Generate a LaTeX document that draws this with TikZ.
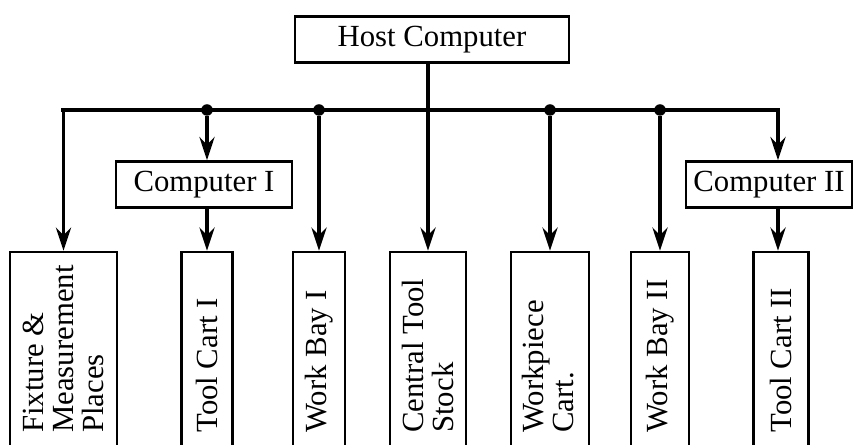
\documentclass[tikz,border=0pt]{standalone}
\usepackage{fontspec}
\setmainfont{Liberation Serif}
\usepackage{tikz}
\usetikzlibrary{arrows.meta, positioning, calc}

\begin{document}
\begin{tikzpicture}[x=0.02cm, y=-0.02cm,
  font=\fontsize{17.5}{17}\selectfont,
  box/.style={draw=black, line width=1.5pt, inner sep=0pt, minimum height=0.92cm},
  cell/.style={draw=black, line width=1.5pt, inner sep=0pt, minimum height=4.36cm},
  vtext/.style={rotate=90, anchor=west, align=left, inner sep=0pt},
  bus/.style={draw=black, line width=2.5pt, line cap=rect},
  feed/.style={draw=black, line width=2.2pt, -{Stealth[length=0.46cm, width=0.3cm]}},
  dot/.style={circle, fill=black, inner sep=0pt, minimum size=0.23cm},
]
\useasboundingbox (0,0) rectangle (863,445);
\clip (0,0) rectangle (863,445);
% ---------- computers ----------
\node[box, minimum width=5.48cm] (host)  at (432,39.5)  {Host Computer};
\node[box, minimum width=3.52cm] (comp1) at (204,184.5) {Computer I};
\node[box, minimum width=3.32cm] (comp2) at (769,184.5) {Computer II};
% ---------- stations (bottom edge runs off the page) ----------
\node[cell, minimum width=2.14cm] (fix) at (63.5,361) {};
\node[cell, minimum width=1.02cm] (tc1) at (207,361)  {};
\node[cell, minimum width=1.04cm] (wb1) at (319,361)  {};
\node[cell, minimum width=1.52cm] (cts) at (428,361)  {};
\node[cell, minimum width=1.56cm] (wpc) at (550,361)  {};
\node[cell, minimum width=1.16cm] (wb2) at (660,361)  {};
\node[cell, minimum width=1.10cm] (tc2) at (781,361)  {};
\node[vtext] (fix-t) at (63.5,433) {Fixture \&\\Measurement\\Places};
\node[vtext] (tc1-t) at (207,433)  {Tool Cart I};
\node[vtext] (wb1-t) at (319,433)  {Work Bay I};
\node[vtext] (cts-t) at (428,433)  {Central Tool\\Stock};
\node[vtext] (wpc-t) at (548,433)  {Workpiece\\Cart.};
\node[vtext] (wb2-t) at (660,433)  {Work Bay II};
\node[vtext] (tc2-t) at (781,433)  {Tool Cart II};
% ---------- bus ----------
\coordinate (busy) at (0,110);
\coordinate (jl) at (fix |- busy);
\coordinate (jr) at (778,110);
\draw[bus] (jl) -- (jr);
\node[dot] (d1) at (tc1 |- busy) {};
\node[dot] (d2) at (wb1 |- busy) {};
\node[dot] (d3) at (wpc |- busy) {};
\node[dot] (d4) at (wb2 |- busy) {};
% ---------- feeds ----------
\draw[feed] (host.south -| cts) -- (cts.north);
\draw[feed] (jl) -- (fix.north);
\draw[feed] (d1) -- (d1 |- comp1.north);
\draw[feed] (comp1.south -| tc1) -- (tc1.north);
\draw[feed] (d2) -- (wb1.north);
\draw[feed] (d3) -- (wpc.north);
\draw[feed] (d4) -- (wb2.north);
\draw[feed] (jr) -- (jr |- comp2.north);
\draw[feed] (comp2.south -| jr) -- (jr |- tc2.north);
\end{tikzpicture}
\end{document}
